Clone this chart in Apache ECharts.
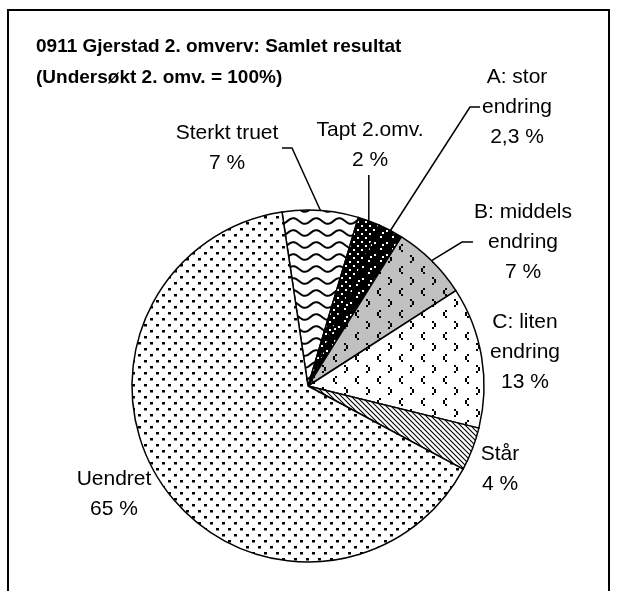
<!DOCTYPE html>
<html>
<head>
<meta charset="utf-8">
<script src="https://cdn.jsdelivr.net/npm/echarts@6/dist/echarts.min.js"></script>
<style>
html,body{margin:0;padding:0;background:#fff;}
#chart{width:618px;height:591px;}
</style>
</head>
<body>
<div id="chart"></div>
<script>
// kategorier og andeler (%)
var categories = ['Sterkt truet', 'Tapt 2.omv.', 'A: stor\nendring', 'B: middels\nendring', 'C: liten\nendring', 'Står', 'Uendret'];
var values = [7, 2, 2.3, 7, 13, 4, 65];
var titleLines = ['0911 Gjerstad 2. omverv: Samlet resultat', '(Undersøkt 2. omv. = 100%)'];

// plassering av etiketter (midtpunkt) og knekk paa etikettlinjer, relativt til midtpunkt
var labelCenter = [[227,148],[370,145],[517,107],[523,242],[525,352],[500,469],[114,494]];
var lineBend = [[[65,0],[55,0]], [[null,30]], [[-47,0],[-37,0]], [[-61,0],[-50,0]], null, null, null];

var FONT = 'Arial, "Liberation Sans", sans-serif';

function makeTile(w, h, bg, paint) {
  var c = document.createElement('canvas');
  c.width = w; c.height = h;
  var g = c.getContext('2d');
  g.fillStyle = bg;
  g.fillRect(0, 0, w, h);
  paint(g);
  return {image: c, repeat: 'repeat'};
}
function lt(g, x, y) {   // "<"
  g.fillRect(x + 2, y - 4, 2, 2); g.fillRect(x, y - 2, 2, 4); g.fillRect(x + 2, y + 2, 2, 2);
}
function gt(g, x, y) {   // ">"
  g.fillRect(x, y - 4, 2, 2); g.fillRect(x + 2, y - 2, 2, 4); g.fillRect(x, y + 2, 2, 2);
}

var patterns = [
  // Sterkt truet: boelger
  makeTile(23, 12, '#fff', function (g) {
    g.strokeStyle = '#000'; g.lineWidth = 2;
    g.beginPath();
    for (var x = -1; x <= 24; x++) {
      var y = 5 + 2.8 * Math.sin(2 * Math.PI * x / 23);
      if (x === -1) g.moveTo(x, y); else g.lineTo(x, y);
    }
    g.stroke();
  }),
  // Tapt: svart med hvite prikker
  makeTile(8, 8, '#000', function (g) {
    g.fillStyle = '#fff'; g.fillRect(1, 1, 2, 2); g.fillRect(5, 5, 2, 2);
  }),
  // A: svart med glisne hvite prikker
  makeTile(12, 12, '#000', function (g) {
    g.fillStyle = '#fff'; g.fillRect(2, 2, 2, 2); g.fillRect(8, 8, 2, 2); g.fillRect(10, 4, 2, 2);
  }),
  // B: graa med < >
  makeTile(22, 22, '#c0c0c0', function (g) {
    g.fillStyle = '#000'; lt(g, 3, 6); gt(g, 14, 17);
  }),
  // C: hvit med < >
  makeTile(22, 22, '#fff', function (g) {
    g.fillStyle = '#000'; lt(g, 3, 6); gt(g, 14, 17);
  }),
  // Står: skraa linjer
  makeTile(5, 5, '#fff', function (g) {
    g.strokeStyle = '#000'; g.lineWidth = 1.1;
    g.beginPath();
    g.moveTo(-1, -1); g.lineTo(6, 6);
    g.moveTo(-1, 4); g.lineTo(1, 6);
    g.moveTo(4, -1); g.lineTo(6, 1);
    g.stroke();
  }),
  // Uendret: prikker
  makeTile(12, 12, '#fff', function (g) {
    g.fillStyle = '#000'; g.fillRect(0, 0, 3, 2.5); g.fillRect(6, 6, 3, 2.5);
  })
];

function pct(v) {
  return String(v).replace('.', ',') + ' %';
}

var chart = echarts.init(document.getElementById('chart'), null, {renderer: 'canvas'});

var option = {
  backgroundColor: '#fff',
  animation: false,
  title: {
    text: titleLines.join('\n'),
    left: 31,
    top: 26,
    textStyle: {fontFamily: FONT, fontSize: 19, fontWeight: 'bold', color: '#000', lineHeight: 31}
  },
  graphic: [{
    type: 'rect',
    silent: true,
    shape: {x: 8, y: 10, width: 601, height: 600},
    style: {fill: 'none', stroke: '#000', lineWidth: 2}
  }],
  series: [{
    type: 'pie',
    center: [308, 386],
    radius: 176,
    startAngle: 98.5,
    clockwise: true,
    avoidLabelOverlap: false,
    emphasis: {disabled: true},
    itemStyle: {borderColor: '#000', borderWidth: 1.5},
    label: {
      show: true,
      position: 'outside',
      color: '#000',
      fontFamily: FONT,
      fontSize: 21,
      lineHeight: 30,
      align: 'center',
      formatter: function (p) { return p.name + '\n' + pct(p.value); }
    },
    labelLine: {show: true, lineStyle: {color: '#000', width: 1.5}},
    labelLayout: function (p) {
      var i = p.dataIndex;
      var c = labelCenter[i];
      var res = {x: c[0], y: c[1], align: 'center', verticalAlign: 'middle'};
      var bend = lineBend[i];
      if (bend && p.labelLinePoints) {
        var p0 = p.labelLinePoints[0];
        var pts = [p0];
        bend.forEach(function (b) {
          pts.push([b[0] == null ? p0[0] : c[0] + b[0], c[1] + b[1]]);
        });
        res.labelLinePoints = pts;
      }
      return res;
    },
    data: categories.map(function (n, i) {
      return {
        name: n,
        value: values[i],
        itemStyle: {color: patterns[i]},
        labelLine: {show: lineBend[i] != null}
      };
    })
  }]
};

chart.setOption(option);
</script>
</body>
</html>
